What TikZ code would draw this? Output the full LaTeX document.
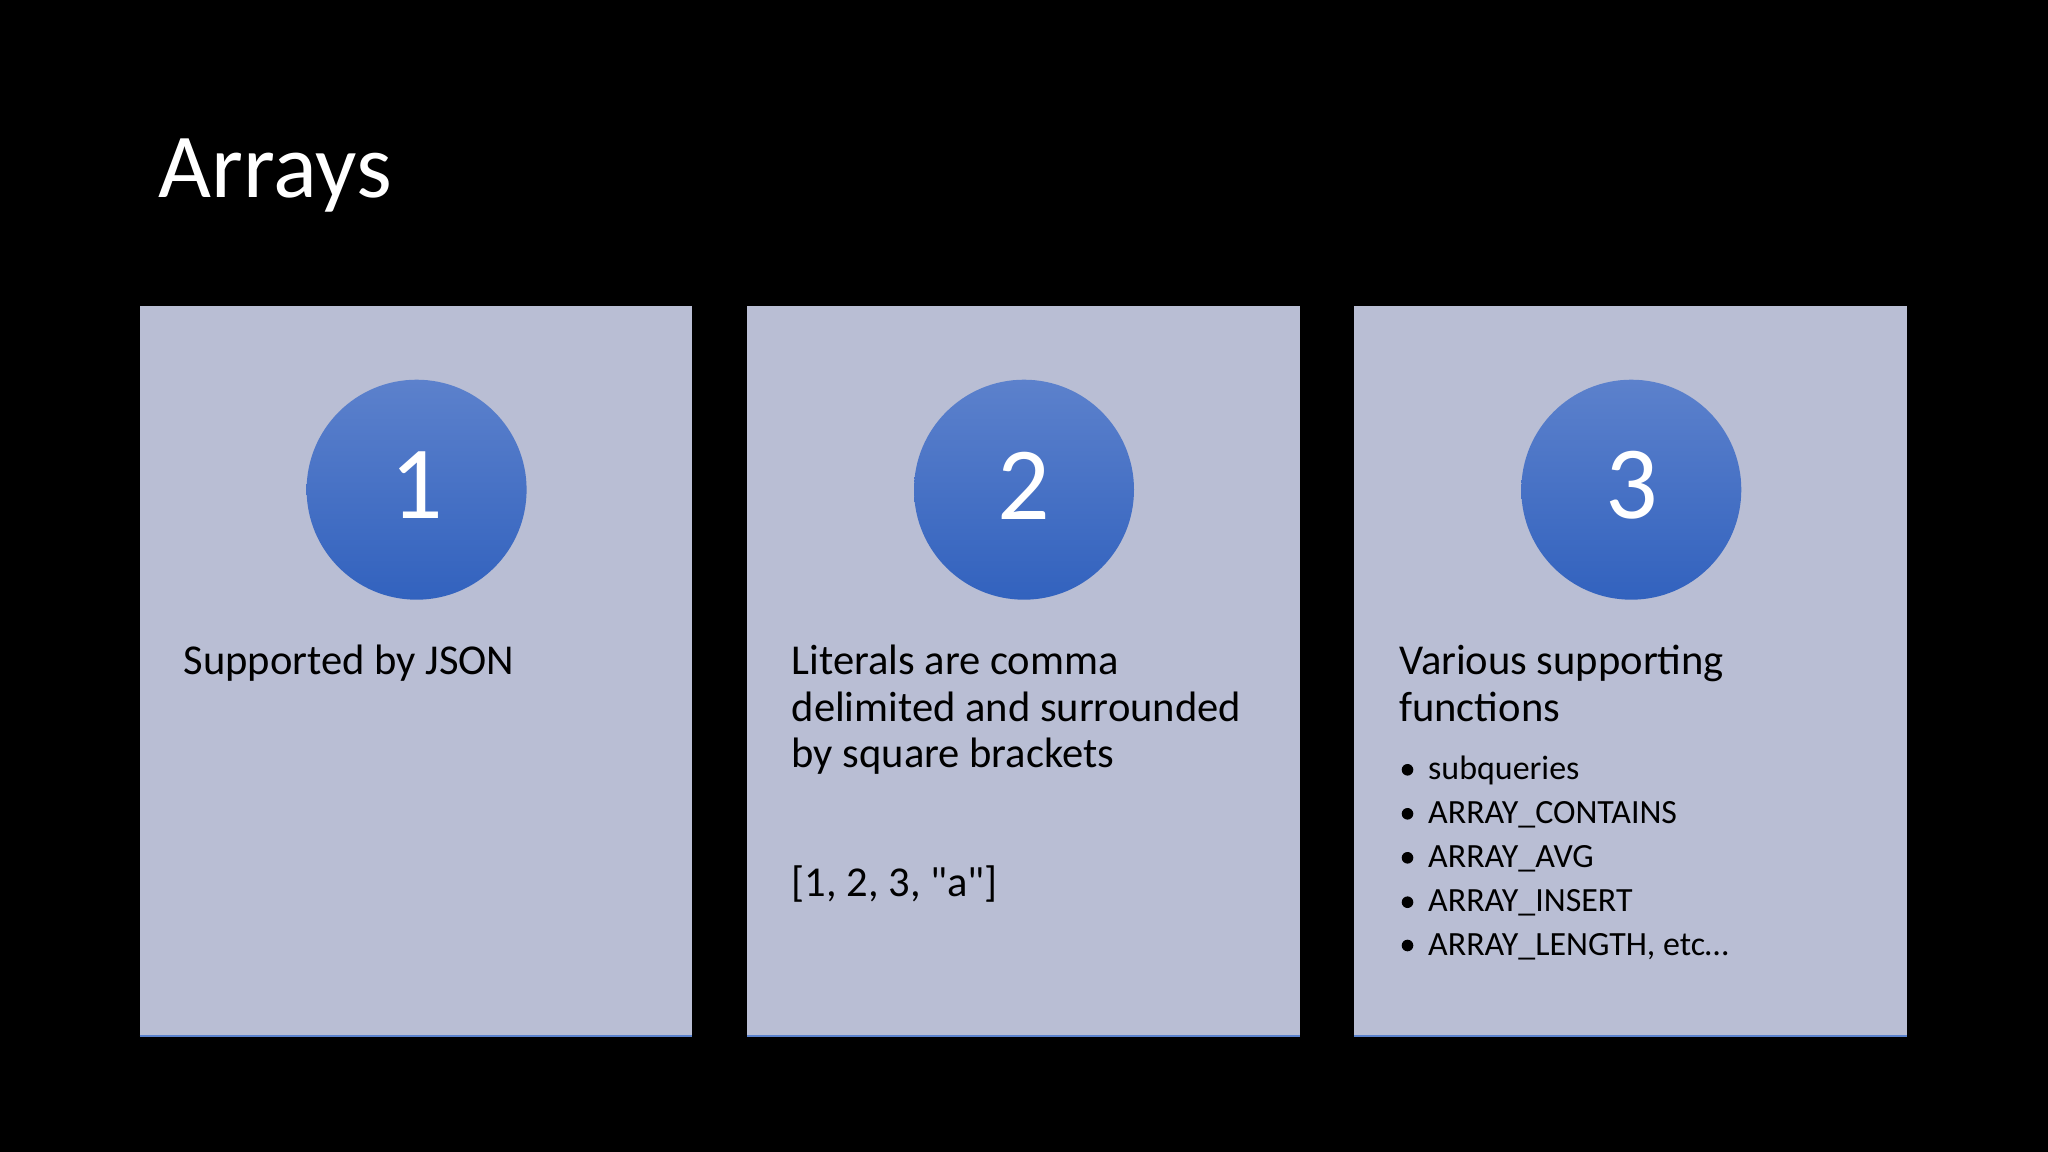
\documentclass[tikz,border=0pt]{standalone}
\usepackage{fontspec}
\setmainfont{Carlito}[Ligatures=TeXOff]
\definecolor{panelfill}{RGB}{185,190,212}
\definecolor{panelline}{RGB}{90,130,205}
\definecolor{circtop}{RGB}{92,129,204}
\definecolor{circbot}{RGB}{50,98,190}
\tikzset{
  bodytext/.style={anchor=base west, inner sep=0pt, text=black, font=\fontsize{12.1}{14}\selectfont},
  itemtext/.style={anchor=base west, inner sep=0pt, text=black, font=\fontsize{9.65}{11}\selectfont},
  bulletdot/.style={circle, fill=black, inner sep=0pt, minimum size=3.3pt},
  titletext/.style={anchor=base west, inner sep=0pt, text=white, font=\fontsize{26}{30}\selectfont},
  digittext/.style={text=white, inner sep=0pt, font=\fontsize{29.5}{30}\selectfont}
}
\begin{document}
\begin{tikzpicture}[x=0.01cm,y=-0.01cm]
\fill[black] (0,0) rectangle (2048,1152);
\useasboundingbox (0,0) rectangle (2048,1152);
\node[titletext] (title) at (158,197.5) {Arrays};
% panels
\foreach \px in {139.6,747.1,1354.4}{
  \fill[panelfill] (\px,305.6) rectangle ++(552.6,731.4);
  \draw[panelline, line width=0.6pt] (\px,1036.4) -- ++(552.6,0);
}
% circles
\foreach \cx/\n in {416.6/1,1024/2,1631.3/3}{
  \shade[top color=circtop, bottom color=circbot] (\cx,489.7) circle (110);
  \node[digittext] (c\n) at (\cx,485.5) {\n};
}
% panel 1
\node[bodytext] (t1) at (183,674.3) {Supported by JSON};
% panel 2
\node[bodytext] (t2a) at (791,674.3) {Literals are comma};
\node[bodytext] (t2b) at (791,721) {delimited and surrounded};
\node[bodytext] (t2c) at (791,767.7) {by square brackets};
\node[bodytext] (t2d) at (791,896) {[1, 2, 3, "a"]};
% panel 3
\node[bodytext] (t3a) at (1398.5,675) {Various supporting};
\node[bodytext] (t3b) at (1398.5,721.7) {functions};
\foreach \yy/\txt [count=\i] in {779.3/subqueries,823.3/ARRAY\_CONTAINS,867.3/ARRAY\_AVG,911.7/ARRAY\_INSERT,955/{ARRAY\_LENGTH, etc…}}{
  \node[bulletdot] (b\i) at (1407.5,\yy-9.5) {};
  \node[itemtext] (i\i) at (1427.5,\yy) {\txt};
}
\end{tikzpicture}
\end{document}
